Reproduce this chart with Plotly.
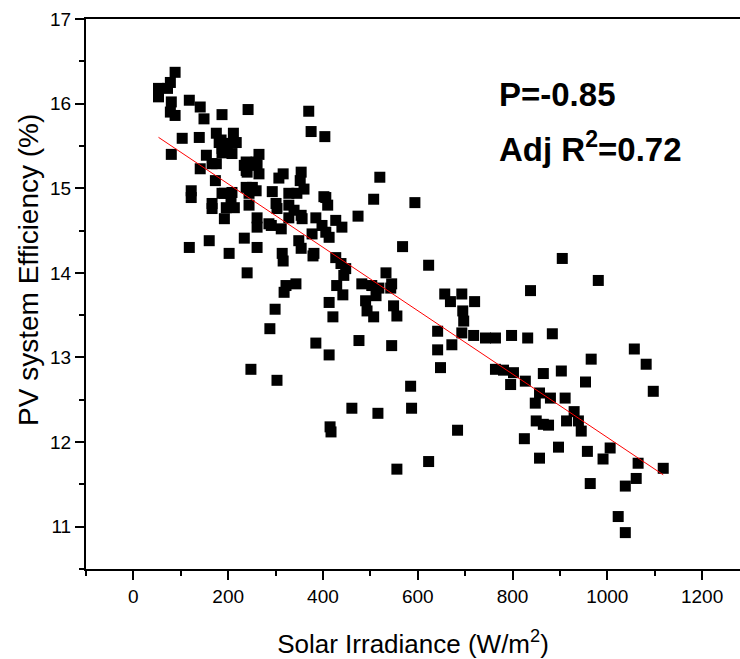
import plotly.graph_objects as go

# Solar irradiance (W/m^2) and PV system efficiency (%)
irradiance = [
    53, 53, 72, 78, 88, 80, 78, 88, 118, 141, 149, 187, 242, 370, 375, 404,
    103, 139, 175, 211, 185, 196, 217, 181, 187, 198, 80, 154, 187, 208, 265,
    166, 141, 175, 234, 259, 238, 238, 261, 240, 265, 173, 316, 307, 354, 352,
    360, 122, 122, 293, 328, 402, 187, 208, 238, 259, 251, 166, 166, 192, 206,
    196, 213, 192, 244, 244, 261, 261, 301, 303, 345, 328, 339, 354, 328, 356,
    286, 312, 291, 385, 406, 410, 427, 440, 398, 406, 377, 413, 474, 160, 118,
    202, 234, 261, 314, 349, 354, 381, 427, 240, 316, 343, 322, 318, 299, 288,
    379, 520, 507, 594, 568, 438, 448, 444, 429, 442, 413, 421, 482, 503, 518,
    490, 512, 493, 507, 533, 545, 543, 549, 556, 476, 545, 385, 413, 415, 417,
    248, 303, 461, 516, 587, 585, 556, 684, 623, 623, 648, 642, 642, 672, 657,
    669, 693, 695, 697, 720, 693, 718, 743, 764, 798, 832, 838, 884, 905, 981,
    903, 966, 954, 1057, 1082, 1097, 764, 781, 802, 827, 796, 865, 857, 880,
    848, 911, 930, 914, 939, 945, 850, 865, 876, 825, 897, 958, 1006, 991,
    1065, 1118, 1061, 1038, 964, 1023, 1038, 857,
]
efficiency = [
    16.18, 16.08, 16.18, 16.25, 16.37, 16.02, 15.90, 15.86, 16.04, 15.96, 15.82, 15.87, 15.93, 15.91, 15.67, 15.61,
    15.59, 15.60, 15.65, 15.65, 15.57, 15.53, 15.54, 15.54, 15.47, 15.42, 15.40, 15.39, 15.42, 15.41, 15.40,
    15.29, 15.23, 15.29, 15.27, 15.31, 15.31, 15.21, 15.27, 15.19, 15.17, 15.09, 15.17, 15.12, 15.19, 15.09,
    14.99, 14.97, 14.89, 14.96, 14.94, 14.90, 14.94, 14.95, 15.01, 14.97, 15.01, 14.82, 14.76, 14.94, 14.89,
    14.77, 14.77, 14.64, 14.94, 14.80, 14.65, 14.54, 14.82, 14.76, 14.94, 14.80, 14.74, 14.68, 14.65, 14.64,
    14.58, 14.52, 14.56, 14.65, 14.89, 14.80, 14.62, 14.54, 14.56, 14.48, 14.46, 14.42, 14.67, 14.38, 14.30,
    14.23, 14.41, 14.30, 14.23, 14.38, 14.29, 14.23, 14.18, 14.00, 14.14, 13.87, 13.85, 13.77, 13.57, 13.34,
    14.20, 15.13, 14.87, 14.83, 14.31, 14.11, 14.05, 13.97, 13.85, 13.74, 13.65, 13.48, 13.87, 13.85, 13.82,
    13.67, 13.73, 13.55, 13.48, 14.00, 13.87, 13.82, 13.61, 13.49, 13.20, 13.14, 13.17, 13.03, 12.18, 12.12,
    12.86, 12.73, 12.40, 12.34, 12.40, 12.66, 11.68, 12.14, 11.77, 14.09, 12.88, 13.09, 13.31, 13.15, 13.75,
    13.66, 13.75, 13.55, 13.43, 13.66, 13.29, 13.26, 13.23, 13.23, 13.26, 13.23, 13.79, 13.28, 14.17, 13.91,
    12.84, 12.98, 12.71, 13.10, 12.92, 12.60, 12.86, 12.85, 12.82, 12.72, 12.68, 12.81, 12.58, 12.52,
    12.46, 12.52, 12.36, 12.25, 12.25, 12.13, 12.25, 12.21, 12.20, 12.04, 11.94, 11.89, 11.93, 11.80,
    11.75, 11.69, 11.57, 11.48, 11.51, 11.12, 10.93, 11.81,
]

# Linear fit shown on the chart
fit_intercept = 15.80
fit_slope = -0.003745
fit_x = [min(irradiance), max(irradiance)]
fit_y = [fit_intercept + fit_slope * v for v in fit_x]

x_ticks = [0, 200, 400, 600, 800, 1000, 1200]
y_ticks = [11, 12, 13, 14, 15, 16, 17]

FONT = "Arial, Liberation Sans, sans-serif"

fig = go.Figure()
fig.add_trace(go.Scatter(
    x=irradiance, y=efficiency, mode="markers",
    marker=dict(symbol="square", size=11, color="black", line=dict(width=0)),
    showlegend=False,
))
fig.add_trace(go.Scatter(
    x=fit_x, y=fit_y, mode="lines",
    line=dict(color="red", width=1), showlegend=False,
))

fig.add_annotation(
    x=0.628, y=0.8636, xref="paper", yref="paper", xanchor="left", yanchor="middle",
    text="<b>P=-0.85</b>", showarrow=False,
    font=dict(family=FONT, size=33, color="black"),
)
fig.add_annotation(
    x=0.628, y=0.767, xref="paper", yref="paper", xanchor="left", yanchor="middle",
    text="<b>Adj R<sup>2</sup>=0.72</b>", showarrow=False,
    font=dict(family=FONT, size=33, color="black"),
)
# y-axis title placed as rotated text
fig.add_annotation(
    x=-0.087, y=0.544, xref="paper", yref="paper", xanchor="center", yanchor="middle",
    text="PV system Efficiency (%)", textangle=-90, showarrow=False,
    font=dict(family=FONT, size=28, color="black"),
)

fig.update_layout(
    width=740, height=659,
    margin=dict(l=86, r=0, t=19, b=90),
    plot_bgcolor="white", paper_bgcolor="white",
    font=dict(family=FONT, color="black"),
)
fig.update_xaxes(
    range=[-100, 1280], tickvals=x_ticks, ticktext=[str(v) for v in x_ticks],
    showgrid=False, zeroline=False,
    showline=True, linecolor="black", linewidth=2, mirror=True,
    ticks="outside", ticklen=9, tickwidth=2, tickcolor="black",
    minor=dict(ticks="outside", ticklen=5, tickwidth=2, tickcolor="black", dtick=100, tick0=0),
    tickfont=dict(family=FONT, size=19, color="black"),
    title=dict(text="Solar Irradiance (W/m<sup>2</sup>)", font=dict(family=FONT, size=26, color="black"), standoff=30),
)
fig.update_yaxes(
    range=[10.5, 17], tickvals=y_ticks, ticktext=[str(v) for v in y_ticks],
    showgrid=False, zeroline=False,
    showline=True, linecolor="black", linewidth=2, mirror=False,
    ticks="outside", ticklen=9, tickwidth=2, tickcolor="black",
    minor=dict(ticks="outside", ticklen=5, tickwidth=2, tickcolor="black", dtick=0.5, tick0=0),
    tickfont=dict(family=FONT, size=19, color="black"),
)

fig.write_html("out.html")
